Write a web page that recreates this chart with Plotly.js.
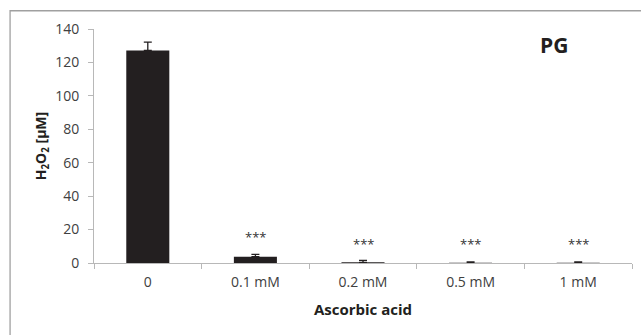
<!DOCTYPE html>
<html>
<head>
<meta charset="utf-8">
<script src="https://cdn.plot.ly/plotly-3.0.1.min.js"></script>
<style>html,body{margin:0;padding:0;background:#fff;}#chart{width:641px;height:335px;}</style>
</head>
<body>
<div id="chart"></div>
<script>
const categories = ["0", "0.1 mM", "0.2 mM", "0.5 mM", "1 mM"];
const h2o2Values = [127.2, 3.8, 0.4, 0.1, 0.1];
const h2o2Errors = [5.0, 1.4, 1.2, 0.5, 0.6];
const significance = ["", "***", "***", "***", "***"];
const significanceY = [0, 15.5, 11.5, 11.5, 11.5];
const panelLabel = "PG";
const xTitle = "Ascorbic acid";
const yTitle = "H<sub>2</sub>O<sub>2</sub> [µM]";

const font = "'Open Sans', 'Noto Sans', sans-serif";

const trace = {
  type: "bar",
  x: categories,
  y: h2o2Values,
  width: 0.4,
  marker: {color: "#231f20", line: {color: "#231f20", width: 0}},
  error_y: {type: "data", array: h2o2Errors, symmetric: false, arrayminus: h2o2Values.map(() => 0),
            color: "#231f20", thickness: 1.3, width: 4},
  hoverinfo: "skip"
};

const annotations = categories.map((c, i) => ({
  x: c, y: significanceY[i], xref: "x", yref: "y", text: significance[i],
  showarrow: false, yanchor: "middle", font: {family: font, size: 13, color: "#333"}
})).filter(a => a.text);

annotations.push({
  x: 0.855, y: 0.93, xref: "paper", yref: "paper", text: "<b>" + panelLabel + "</b>",
  showarrow: false, xanchor: "center", yanchor: "middle",
  font: {family: font, size: 21, color: "#231f20"}
});

const layout = {
  width: 641, height: 335,
  margin: {l: 94, r: 9, t: 29, b: 72},
  paper_bgcolor: "#fff", plot_bgcolor: "#fff",
  showlegend: false,
  font: {family: font, size: 14, color: "#404040"},
  xaxis: {
    type: "category",
    showline: true, linecolor: "#b8b8b8", linewidth: 1,
    ticks: "outside", tickson: "boundaries", ticklen: 5, tickcolor: "#b8b8b8",
    ticklabelstandoff: 6,
    showgrid: false, zeroline: false,
    tickfont: {family: font, size: 14, color: "#404040"},
    title: {text: "<b>" + xTitle + "</b>", font: {family: font, size: 15, color: "#231f20"}, standoff: 14}
  },
  yaxis: {
    range: [0, 140], dtick: 20, tick0: 0,
    showline: true, linecolor: "#b8b8b8", linewidth: 1,
    ticks: "outside", ticklen: 5, tickcolor: "#b8b8b8",
    ticklabelstandoff: 6,
    showgrid: false, zeroline: false,
    tickfont: {family: font, size: 14, color: "#404040"},
    title: {text: "<b>" + yTitle + "</b>", font: {family: font, size: 14, color: "#231f20"}, standoff: 5}
  },
  shapes: [{
    type: "path", xref: "paper", yref: "paper",
    path: "M -0.156 -0.32 L -0.156 1.078 L 1.02 1.078",
    line: {color: "#a0a0a0", width: 1.3}
  }],
  annotations: annotations
};

Plotly.newPlot("chart", [trace], layout, {displayModeBar: false, staticPlot: true});
</script>
</body>
</html>
